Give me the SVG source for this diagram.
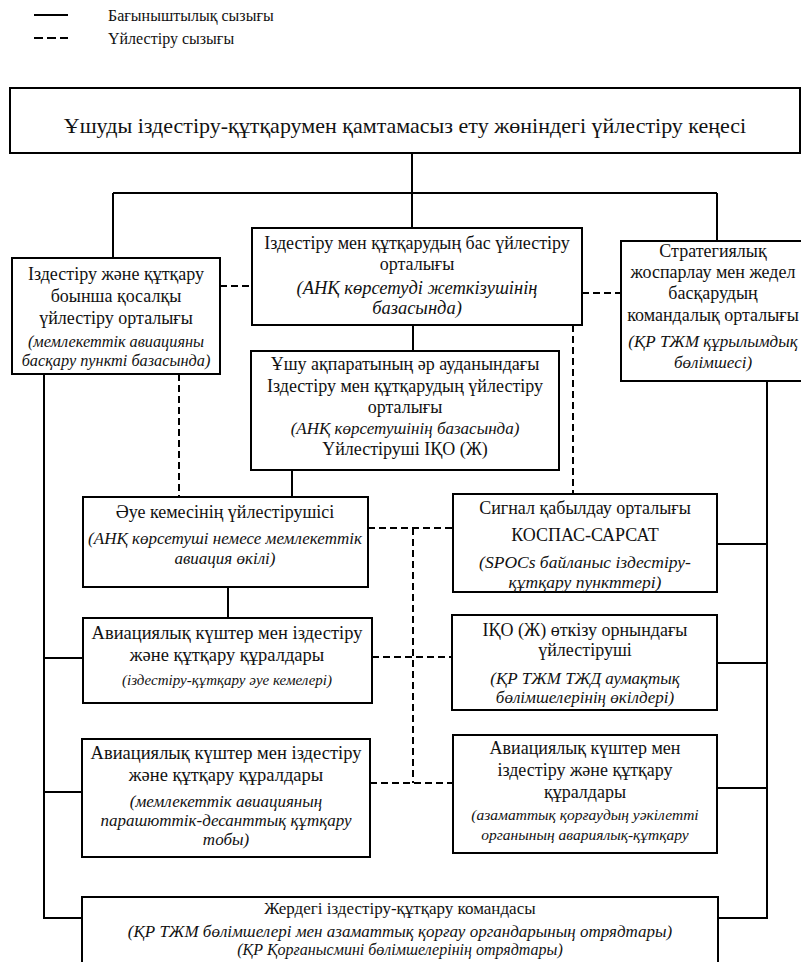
<svg xmlns="http://www.w3.org/2000/svg" width="801" height="962" viewBox="0 0 801 962">
<style>
.box{fill:#fff;stroke:#000;stroke-width:2}
.t{font-family:"Liberation Serif","Times New Roman",serif;font-size:18px;text-anchor:middle;fill:#111}
.i{font-style:italic;font-size:17px}
.ln{stroke:#000;stroke-width:2;fill:none}
.d{stroke-dasharray:7 4}
</style>
<rect width="801" height="962" fill="#fff"/>
<g id="legend">
<line class="ln" x1="34" y1="15" x2="68" y2="15"/>
<line class="ln" style="stroke-dasharray:9 4" x1="34" y1="38" x2="68" y2="38"/>
<text class="t" style="text-anchor:start;font-size:16px" x="108" y="21">Бағыныштылық сызығы</text>
<text class="t" style="text-anchor:start;font-size:16px" x="108" y="44">Үйлестіру сызығы</text>
</g>
<g id="connectors">
<path class="ln" d="M412 153V193M113 193H717M113 193V258M412 193V228M717 193V241"/>
<path class="ln" d="M413 325V351M292 470V497M228 587V618"/>
<path class="ln" d="M44 374V918H82M44 658H83M44 792H82"/>
<path class="ln" d="M767 381V918H718M717 544H767M717 663H767M717 788H767"/>
<path class="ln d" d="M220 286H252M582 293H621M179 374V497M573 325V494M368 528H453M413 528V783M372 657H452M370 783H453"/>
</g>
<g id="council">
<rect class="box" x="10" y="88" width="790" height="65"/>
<text class="t" style="font-size:22px" x="405" y="133">Ұшуды іздестіру-құтқарумен қамтамасыз ету жөніндегі үйлестіру кеңесі</text>
</g>
<g id="sub-rcc">
<rect class="box" x="12" y="258" width="208" height="116"/>
<text class="t" x="116" y="280">Іздестіру және құтқару</text>
<text class="t" x="116" y="302">боынша қосалқы</text>
<text class="t" x="116" y="324">үйлестіру орталығы</text>
<text class="t i" style="font-size:16.3px" x="116" y="347">(мемлекеттік авиацияны</text>
<text class="t i" style="font-size:16.3px" x="116" y="366">басқару пункті базасында)</text>
</g>
<g id="main-rcc">
<rect class="box" x="252" y="228" width="330" height="97"/>
<text class="t" x="417" y="249">Іздестіру мен құтқарудың бас үйлестіру</text>
<text class="t" x="417" y="270">орталығы</text>
<text class="t i" style="font-size:18.5px" x="417" y="294">(АНҚ көрсетуді жеткізушінің</text>
<text class="t i" style="font-size:18.5px" x="417" y="314">базасында)</text>
</g>
<g id="command-center">
<rect class="box" x="621" y="241" width="190" height="140"/>
<text class="t" x="713" y="257">Стратегиялық</text>
<text class="t" x="713" y="278">жоспарлау мен жедел</text>
<text class="t" x="713" y="299">басқарудың</text>
<text class="t" x="713" y="321">командалық орталығы</text>
<text class="t i" x="713" y="347">(ҚР ТЖМ құрылымдық</text>
<text class="t i" x="713" y="368">бөлімшесі)</text>
</g>
<g id="region-rcc">
<rect class="box" x="251" y="351" width="308" height="119"/>
<text class="t" x="405" y="370">Ұшу ақпаратының әр ауданындағы</text>
<text class="t" x="405" y="392">Іздестіру мен құтқарудың үйлестіру</text>
<text class="t" x="405" y="413">орталығы</text>
<text class="t i" x="405" y="434">(АНҚ көрсетушінің базасында)</text>
<text class="t" x="405" y="455">Үйлестіруші ІҚО (Ж)</text>
</g>
<g id="aircraft-coordinator">
<rect class="box" x="83" y="497" width="285" height="90"/>
<text class="t" x="225" y="518">Әуе кемесінің үйлестірушісі</text>
<text class="t i" x="225" y="544">(АНҚ көрсетуші немесе мемлекеттік</text>
<text class="t i" x="225" y="564">авиация өкілі)</text>
</g>
<g id="cospas">
<rect class="box" x="453" y="494" width="264" height="98"/>
<text class="t" x="585" y="514">Сигнал қабылдау орталығы</text>
<text class="t" x="585" y="541">КОСПАС-САРСАТ</text>
<text class="t i" style="font-size:17.5px" x="585" y="568">(SPOCs байланыс іздестіру-</text>
<text class="t i" style="font-size:17.5px" x="585" y="588">құтқару пункттері)</text>
</g>
<g id="aviation-1">
<rect class="box" x="83" y="618" width="289" height="85"/>
<text class="t" style="font-size:18.5px" x="227" y="639">Авиациялық күштер мен іздестіру</text>
<text class="t" style="font-size:18.5px" x="227" y="661">және құтқару құралдары</text>
<text class="t i" style="font-size:15px" x="227" y="685">(іздестіру-құтқару әуе кемелері)</text>
</g>
<g id="site-coordinator">
<rect class="box" x="452" y="615" width="265" height="95"/>
<text class="t" x="585" y="636">ІҚО (Ж) өткізу орнындағы</text>
<text class="t" x="585" y="656">үйлестіруші</text>
<text class="t i" x="585" y="684">(ҚР ТЖМ ТЖД аумақтық</text>
<text class="t i" x="585" y="703">бөлімшелерінің өкілдері)</text>
</g>
<g id="aviation-2">
<rect class="box" x="82" y="739" width="288" height="118"/>
<text class="t" style="font-size:18.5px" x="226" y="759">Авиациялық күштер мен іздестіру</text>
<text class="t" style="font-size:18.5px" x="226" y="781">және құтқару құралдары</text>
<text class="t i" x="226" y="807">(мемлекеттік авиацияның</text>
<text class="t i" x="226" y="826">парашюттік-десанттық құтқару</text>
<text class="t i" x="226" y="845">тобы)</text>
</g>
<g id="aviation-3">
<rect class="box" x="453" y="735" width="264" height="118"/>
<text class="t" x="585" y="754">Авиациялық күштер мен</text>
<text class="t" x="585" y="776">іздестіру және құтқару</text>
<text class="t" x="585" y="798">құралдары</text>
<text class="t i" style="font-size:15.5px" x="585" y="820">(азаматтық қорғаудың уәкілетті</text>
<text class="t i" style="font-size:15.5px" x="585" y="840">органының авариялық-құтқару</text>
</g>
<g id="ground-team">
<rect class="box" x="82" y="897" width="636" height="80"/>
<text class="t" style="font-size:17px" x="400" y="914">Жердегі іздестіру-құтқару командасы</text>
<text class="t i" x="400" y="937">(ҚР ТЖМ бөлімшелері мен азаматтық қорғау органдарының отрядтары)</text>
<text class="t i" style="font-size:16px" x="400" y="955">(ҚР Қорғанысмині бөлімшелерінің отрядтары)</text>
</g>
</svg>
